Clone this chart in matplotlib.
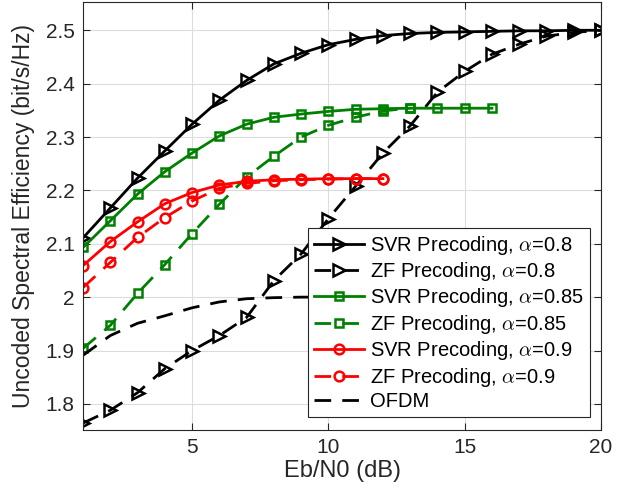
import matplotlib.pyplot as plt
import numpy as np

plt.rcParams['font.family'] = ['Liberation Sans', 'DejaVu Sans']
plt.rcParams['mathtext.fontset'] = 'cm'

# Eb/N0 grid (dB)
snr = np.arange(1, 21)

svr_08 = [2.111, 2.167, 2.223, 2.274, 2.324, 2.369, 2.406, 2.437, 2.457, 2.473,
          2.483, 2.490, 2.494, 2.496, 2.497, 2.498, 2.499, 2.499, 2.500, 2.500]
zf_08 = [1.764, 1.788, 1.821, 1.866, 1.900, 1.928, 1.962, 2.031, 2.081, 2.147,
         2.208, 2.270, 2.321, 2.384, 2.423, 2.455, 2.474, 2.489, 2.496, 2.500]
svr_085 = [2.093, 2.143, 2.193, 2.235, 2.270, 2.302, 2.324, 2.337, 2.343, 2.348,
           2.352, 2.353, 2.354, 2.354, 2.354, 2.354]
zf_085 = [1.904, 1.947, 2.007, 2.061, 2.119, 2.174, 2.225, 2.264, 2.300, 2.322,
          2.337, 2.349, 2.354]
svr_09 = [2.059, 2.104, 2.141, 2.175, 2.196, 2.210, 2.217, 2.220, 2.221, 2.222,
          2.222, 2.222]
zf_09 = [2.018, 2.065, 2.112, 2.149, 2.180, 2.204, 2.213, 2.218, 2.220, 2.221,
         2.222, 2.222]
ofdm = [1.891, 1.928, 1.951, 1.965, 1.980, 1.991, 1.997, 1.999, 2.000, 2.000,
        2.000, 2.000]

green = '#008000'
dash = (0, (6, 4))

fig = plt.figure(figsize=(6.21, 4.98), dpi=100)
ax = fig.add_axes([0.1337, 0.1365, 0.8341, 0.8595])

ax.plot(snr[:len(svr_08)], svr_08, '-', color='k', lw=2, marker='>', ms=9,
        mfc='none', mew=1.8, label=r'SVR Precoding, $\alpha$=0.8')
ax.plot(snr[:len(zf_08)], zf_08, color='k', ls=dash, lw=2, marker='>', ms=9,
        mfc='none', mew=1.8, label=r'ZF Precoding, $\alpha$=0.8')
ax.plot(snr[:len(svr_085)], svr_085, '-', color=green, lw=2, marker='s', ms=6,
        mfc='none', mew=1.8, label=r'SVR Precoding, $\alpha$=0.85')
ax.plot(snr[:len(zf_085)], zf_085, color=green, ls=dash, lw=2, marker='s', ms=6,
        mfc='none', mew=1.8, label=r'ZF Precoding, $\alpha$=0.85')
ax.plot(snr[:len(svr_09)], svr_09, '-', color='r', lw=2, marker='o', ms=7,
        mfc='none', mew=1.8, label=r'SVR Precoding, $\alpha$=0.9')
ax.plot(snr[:len(zf_09)], zf_09, color='r', ls=dash, lw=2, marker='o', ms=7,
        mfc='none', mew=1.8, label=r'ZF Precoding, $\alpha$=0.9')
ax.plot(snr[:len(ofdm)], ofdm, color='k', ls=dash, lw=2, label='OFDM')

ax.set_xlim(1, 20)
ax.set_ylim(1.751, 2.553)
ax.set_xticks([5, 10, 15, 20])
ax.set_yticks([1.8, 1.9, 2.0, 2.1, 2.2, 2.3, 2.4, 2.5])
ax.set_yticklabels(['1.8', '1.9', '2', '2.1', '2.2', '2.3', '2.4', '2.5'])
ax.grid(True, color='#dcdcdc', lw=0.8)
ax.set_axisbelow(True)
ax.tick_params(direction='in', top=True, right=True, labelsize=15,
               colors='#262626', length=5, pad=6)
for sp in ax.spines.values():
    sp.set_color('#262626')
    sp.set_linewidth(0.8)

ax.set_xlabel('Eb/N0 (dB)', fontsize=17, color='#262626', labelpad=2)
ax.set_ylabel('Uncoded Spectral Efficiency (bit/s/Hz)', fontsize=16.5,
              color='#262626', labelpad=8)

leg = ax.legend(loc='lower right', bbox_to_anchor=(0.979, 0.03),
                borderaxespad=0, fontsize=14.5, handlelength=2.5,
                handletextpad=0.3, labelspacing=0.17, fancybox=False,
                framealpha=1, edgecolor='#262626', borderpad=0.3)
leg.get_frame().set_linewidth(0.8)

fig.savefig('out.png', dpi=100)
